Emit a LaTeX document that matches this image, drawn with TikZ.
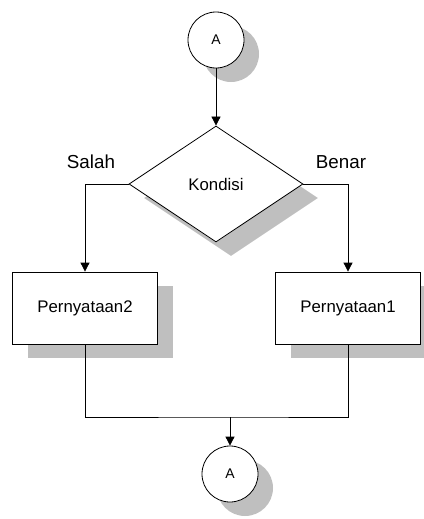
\documentclass[tikz,border=0pt]{standalone}
\usepackage{fontspec}
\setmainfont{Liberation Sans}
\usetikzlibrary{shapes.geometric,shadows,arrows.meta}

\begin{document}
\begin{tikzpicture}[x=1pt,y=-1pt,
  line width=0.8pt,
  shade box/.style={fill=white,draw=black,drop shadow={shadow xshift=15pt,shadow yshift=-14pt,fill=black!25,opacity=1}},
  connector/.style={circle,shade box,minimum size=56pt,inner sep=0pt,font=\fontsize{14}{16}\selectfont},
  decision/.style={diamond,shade box,minimum width=174pt,minimum height=116pt,aspect=1.5,inner sep=0pt,font=\fontsize{16.8}{20}\selectfont},
  stmt/.style={rectangle,shade box,minimum width=145pt,minimum height=72pt,inner sep=0pt,font=\fontsize{16.8}{20}\selectfont},
  lbl/.style={font=\fontsize{18.8}{22}\selectfont},
  arr/.style={-{Triangle[length=9pt,width=9pt]}}]
\useasboundingbox (0,0) rectangle (423,519);
%nodes
\node[connector] (topA) at (216,40) {A};
\node[decision] (cond) at (216,184) {Kondisi};
\node[stmt] (stmtB) at (85,308) {Pernyataan2};
\node[stmt] (stmtA) at (348,308) {Pernyataan1};
\node[connector] (botA) at (230,474) {A};
\node[lbl] (salah) at (91,162) {Salah};
\node[lbl] (benar) at (341,162) {Benar};
\coordinate (join) at (230,417);
%lines
\draw[arr] (topA) -- (cond);
\draw[arr] (cond.west) -| (stmtB.north);
\draw[arr] (cond.east) -| (stmtA.north);
\draw (stmtB.south) |- (join) -| (stmtA.south);
\draw[arr] (join) -- (botA);
\end{tikzpicture}
\end{document}
